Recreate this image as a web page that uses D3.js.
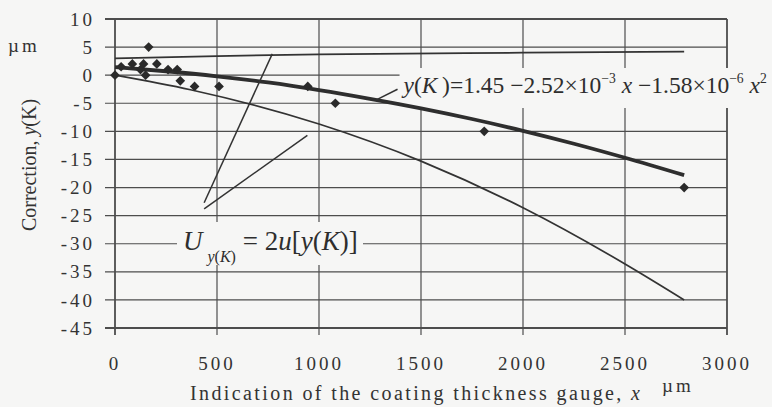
<!DOCTYPE html>
<html>
<head>
<meta charset="utf-8">
<script src="https://cdn.jsdelivr.net/npm/d3@7"></script>
<style>
    body { margin: 0; background: #f6f6f5; }
    svg { display: block; }
    svg text { font-family: "Liberation Serif", "Times New Roman", serif; }
</style>
</head>
<body>
<svg id="chart" width="772" height="407"></svg>
<script>
"use strict";

// ticks
var xTicks = [0, 500, 1000, 1500, 2000, 2500, 3000],
    yTicks = [10, 5, 0, -5, -10, -15, -20, -25, -30, -35, -40, -45];

// measured corrections (diamonds)
var pointX = [0, 30, 85, 125, 140, 150, 165, 205, 260, 305, 320, 390, 510, 945, 1080, 1810, 2790],
    pointY = [0, 1.5, 2, 1, 2, 0, 5, 2, 1, 1, -1, -2, -2, -2, -5, -10, -20];

// fitted curve y(K)
var fitX = [0, 250, 500, 750, 1000, 1250, 1500, 1750, 2000, 2250, 2500, 2790],
    fitY = [1.45, 0.7, -0.2, -1.3, -2.65, -4.2, -5.9, -7.8, -9.9, -12.2, -14.7, -17.8];

// uncertainty bounds
var upperX = [0, 500, 1000, 2000, 2790],
    upperY = [3.0, 3.4, 3.7, 4.0, 4.2],
    lowerX = [0, 370, 1000, 1500, 2000, 2500, 2790],
    lowerY = [0, -2.6, -8.7, -15.3, -23.6, -33.6, -40];

// annotation pointers (data coords)
var pointerU = [[771, 3.8], [437, -22.7], [437, -23.8], [943, -10.7]],
    pointerFit = [[1281, -4.4], [1385, -2.5]];

var LEFT = 115, RIGHT = 727, TOP = 19, BOTTOM = 328,
    INK = "#333",
    GRID = "#4d4d4d",
    PAPER = "#f6f6f5";

var svg = d3.select("#chart");

var x = d3.scaleLinear().domain([0, 3000]).range([LEFT, RIGHT]),
    y = d3.scaleLinear().domain([10, -45]).range([TOP, BOTTOM]);

// grid + ticks
svg.append("g").selectAll("line").data(yTicks).enter().append("line")
    .attr("x1", LEFT - 10).attr("x2", RIGHT)
    .attr("y1", function (d) { return y(d); })
    .attr("y2", function (d) { return y(d); })
    .style("stroke", GRID)
    .style("stroke-width", function (d) { return (d === 10 || d === -45) ? 1.8 : 1.2; });

svg.append("g").selectAll("line").data(xTicks).enter().append("line")
    .attr("y1", TOP).attr("y2", BOTTOM + 7)
    .attr("x1", function (d) { return x(d); })
    .attr("x2", function (d) { return x(d); })
    .style("stroke", GRID)
    .style("stroke-width", function (d) { return (d === 0 || d === 3000) ? 1.8 : 1.2; });

// label backgrounds knock out the grid, curves stay on top
svg.append("rect").attr("x", x(1385) + 2).attr("y", 68)
    .attr("width", 772 - x(1385)).attr("height", 40)
    .style("fill", PAPER);
svg.append("rect").attr("x", 177).attr("y", 222)
    .attr("width", 186).attr("height", 43)
    .style("fill", PAPER);

// tick labels
svg.append("g").selectAll("text").data(yTicks).enter().append("text")
    .attr("x", 95)
    .attr("y", function (d) { return y(d); })
    .attr("dy", "0.35em")
    .attr("text-anchor", "end")
    .style("font-size", "19px")
    .style("letter-spacing", "3px")
    .style("fill", INK)
    .text(function (d) { return String(d); });

svg.append("g").selectAll("text").data(xTicks).enter().append("text")
    .attr("x", function (d) { return x(d); })
    .attr("y", 370)
    .attr("text-anchor", "middle")
    .style("font-size", "19px")
    .style("letter-spacing", "3px")
    .style("fill", INK)
    .text(function (d) { return String(d); });

// units and titles
svg.append("text").attr("x", 8).attr("y", 52)
    .style("font-size", "19px").style("letter-spacing", "3px").style("fill", INK)
    .text("\u00b5m");
svg.append("text").attr("x", 662).attr("y", 392)
    .style("font-size", "19px").style("letter-spacing", "3px").style("fill", INK)
    .text("\u00b5m");

var xt = svg.append("text").attr("x", 190).attr("y", 400)
    .attr("textLength", 450).attr("lengthAdjust", "spacing")
    .style("font-size", "20px").style("fill", INK);
xt.append("tspan").text("Indication of the coating thickness gauge, ");
xt.append("tspan").style("font-style", "italic").text("x");

var yt = svg.append("text")
    .attr("transform", "translate(36,165) rotate(-90)")
    .attr("text-anchor", "middle")
    .style("font-size", "20px").style("fill", INK);
yt.append("tspan").text("Correction, ");
yt.append("tspan").style("font-style", "italic").text("y");
yt.append("tspan").text("(K)");

// series
var line = d3.line()
    .x(function (d) { return x(d[0]); })
    .y(function (d) { return y(d[1]); })
    .curve(d3.curveMonotoneX);

function pairs(xs, ys) {
    return xs.map(function (v, i) { return [v, ys[i]]; });
}

svg.append("path").datum(pairs(upperX, upperY)).attr("d", line)
    .style("fill", "none").style("stroke", INK).style("stroke-width", 1.7);
svg.append("path").datum(pairs(lowerX, lowerY)).attr("d", line)
    .style("fill", "none").style("stroke", INK).style("stroke-width", 1.7);
svg.append("path").datum(pairs(fitX, fitY)).attr("d", line)
    .style("fill", "none").style("stroke", "#2e2e2e").style("stroke-width", 3.8);

svg.append("g").selectAll("path").data(pairs(pointX, pointY)).enter().append("path")
    .attr("transform", function (d) { return "translate(" + x(d[0]) + "," + y(d[1]) + ")"; })
    .attr("d", d3.symbol().type(d3.symbolDiamond2 || d3.symbolDiamond).size(60))
    .style("fill", "#2a2a2a");

// pointers
var plain = d3.line()
    .x(function (d) { return x(d[0]); })
    .y(function (d) { return y(d[1]); });
svg.append("path").datum(pointerU.slice(0, 2)).attr("d", plain)
    .style("fill", "none").style("stroke", INK).style("stroke-width", 1.5);
svg.append("path").datum(pointerU.slice(2)).attr("d", plain)
    .style("fill", "none").style("stroke", INK).style("stroke-width", 1.5);
svg.append("path").datum(pointerFit).attr("d", plain)
    .style("fill", "none").style("stroke", INK).style("stroke-width", 1.5);

// equation label; sup dy is in the sup's own em, the way back in the parent's em
var eq = svg.append("text").attr("x", x(1414)).attr("y", 93)
    .style("font-size", "24px").style("fill", "#2e2e2e");

function sup(t) {
    eq.append("tspan").attr("dy", "-0.72em").style("font-size", "0.58em").text(t);
}

eq.append("tspan").style("font-style", "italic").text("y");
eq.append("tspan").text("(");
eq.append("tspan").style("font-style", "italic").text("K");
eq.append("tspan").text("\u2009)=1.45 \u22122.52\u00d710");
sup("\u22123");
eq.append("tspan").attr("dy", "0.42em").style("font-style", "italic").text(" x");
eq.append("tspan").text(" \u22121.58\u00d710");
sup("\u22126");
eq.append("tspan").attr("dy", "0.42em").style("font-style", "italic").text(" x");
sup("2");

(function fit() {
    var fs = 24, limit = 770 - x(1414);
    while (fs > 16 && eq.node().getBBox().width > limit) {
        fs -= 0.25;
        eq.style("font-size", fs + "px");
    }
}());

// expanded uncertainty label
var ul = svg.append("text").attr("x", 183).attr("y", 250)
    .style("font-size", "27px").style("fill", "#2e2e2e");
ul.append("tspan").style("font-style", "italic").text("U");
ul.append("tspan").attr("dy", 12).attr("dx", 5).style("font-size", "16px").style("font-style", "italic").text("y");
ul.append("tspan").style("font-size", "16px").text("(");
ul.append("tspan").style("font-size", "16px").style("font-style", "italic").text("K");
ul.append("tspan").style("font-size", "16px").text(")");
ul.append("tspan").attr("dy", -12).text(" = 2");
ul.append("tspan").style("font-style", "italic").text("u");
ul.append("tspan").text("[");
ul.append("tspan").style("font-style", "italic").text("y");
ul.append("tspan").text("(");
ul.append("tspan").style("font-style", "italic").text("K");
ul.append("tspan").text(")]");
</script>
</body>
</html>
